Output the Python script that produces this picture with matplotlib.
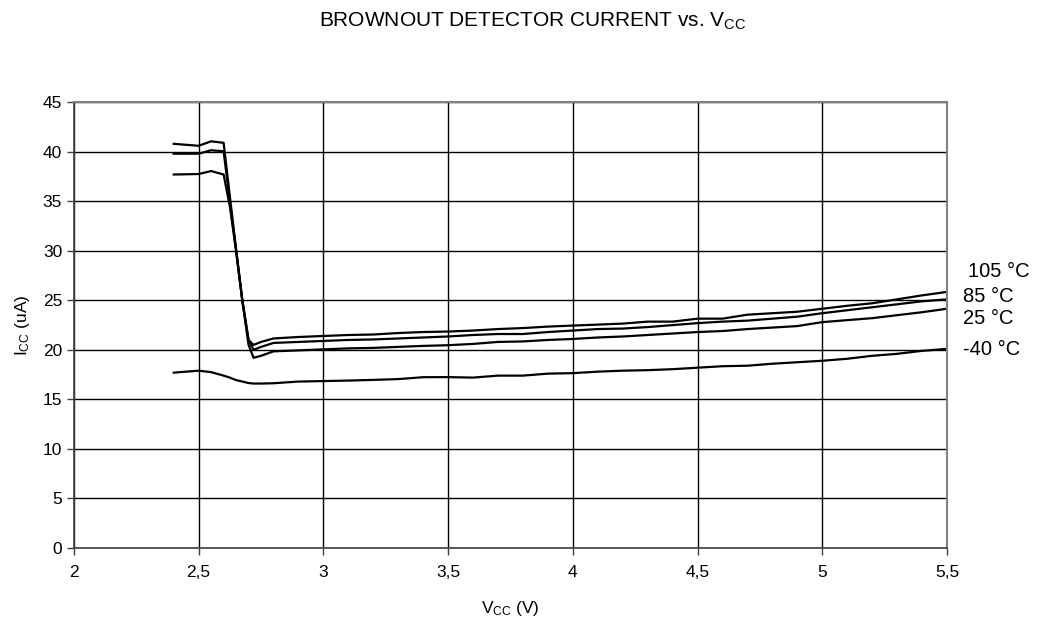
import matplotlib

matplotlib.use("Agg")
import matplotlib.pyplot as plt
from matplotlib.ticker import FuncFormatter

plt.rcParams["font.family"] = ["Liberation Sans", "DejaVu Sans"]
plt.rcParams["mathtext.default"] = "regular"

# supply voltage (V)
vcc = [2.4, 2.5, 2.55, 2.6, 2.625, 2.65, 2.675, 2.7, 2.72, 2.75, 2.8,
       2.9, 3.0, 3.1, 3.2, 3.3, 3.4, 3.5, 3.6, 3.7, 3.8, 3.9, 4.0,
       4.1, 4.2, 4.3, 4.4, 4.5, 4.6, 4.7, 4.8, 4.9, 5.0,
       5.1, 5.2, 5.3, 5.4, 5.5]

# current (uA) per temperature
icc_105 = [40.8, 40.6, 41.05, 40.9, 35.5, 30.2, 25.0, 21.0, 20.5, 20.8, 21.15,
           21.3, 21.4, 21.5, 21.55, 21.7, 21.8, 21.85, 21.95, 22.1, 22.2, 22.35, 22.45,
           22.55, 22.65, 22.85, 22.85, 23.15, 23.15, 23.55, 23.7, 23.85, 24.15,
           24.45, 24.7, 25.1, 25.5, 25.85]
icc_85 = [39.8, 39.8, 40.15, 40.05, 35.0, 30.0, 25.0, 21.0, 20.0, 20.3, 20.7,
          20.8, 20.9, 21.0, 21.05, 21.15, 21.25, 21.35, 21.5, 21.6, 21.6, 21.8, 21.95,
          22.1, 22.15, 22.3, 22.5, 22.7, 22.85, 22.95, 23.15, 23.35, 23.7,
          24.0, 24.3, 24.6, 24.9, 25.1]
icc_25 = [37.7, 37.75, 38.05, 37.7, 34.5, 30.0, 25.0, 20.5, 19.2, 19.4, 19.85,
          19.95, 20.05, 20.15, 20.2, 20.3, 20.4, 20.47, 20.6, 20.8, 20.85, 21.0, 21.1,
          21.25, 21.35, 21.5, 21.65, 21.8, 21.9, 22.1, 22.25, 22.4, 22.8,
          23.0, 23.2, 23.5, 23.8, 24.15]
icc_m40 = [17.7, 17.9, 17.75, 17.4, 17.2, 16.95, 16.8, 16.65, 16.6, 16.6, 16.63,
           16.8, 16.85, 16.9, 16.97, 17.05, 17.24, 17.25, 17.2, 17.4, 17.4, 17.6, 17.65,
           17.8, 17.9, 17.95, 18.05, 18.2, 18.35, 18.4, 18.6, 18.75, 18.9,
           19.1, 19.4, 19.6, 19.9, 20.1]

series = [icc_105, icc_85, icc_25, icc_m40]
labels = ["105 °C", "85 °C", "25 °C", "-40 °C"]
label_pos = [(5.585, 27.9), (5.565, 25.4), (5.565, 23.2), (5.565, 20.0)]

x_ticks = [2, 2.5, 3, 3.5, 4, 4.5, 5, 5.5]
y_ticks = list(range(0, 46, 5))

fig = plt.figure(figsize=(10.43, 6.27), dpi=100)
ax = fig.add_axes([0.0709, 0.126, 0.837, 0.711])

for values in series:
    ax.plot(vcc, values, color="black", linewidth=1.6, solid_joinstyle="round")

ax.set_xlim(2, 5.5)
ax.set_ylim(0, 45)
ax.set_xticks(x_ticks)
ax.set_yticks(y_ticks)
ax.xaxis.set_major_formatter(FuncFormatter(lambda v, p: f"{v:g}".replace(".", ",")))
ax.grid(True, color="black", linewidth=1.0)
ax.set_axisbelow(True)
ax.tick_params(direction="out", length=5, width=1, labelsize=12.5, color="#404040")
ax.tick_params(axis="x", pad=7)

for side in ("top", "right"):
    ax.spines[side].set_color("#808080")
    ax.spines[side].set_linewidth(1.5)
for side in ("left", "bottom"):
    ax.spines[side].set_color("#404040")
    ax.spines[side].set_linewidth(1.2)

for text, (xv, yv) in zip(labels, label_pos):
    ax.text(xv, yv, text, fontsize=14.5, ha="left", va="center", clip_on=False)

ax.set_xlabel(r"V$_{CC}$ (V)", fontsize=12.5, labelpad=14)
ax.set_ylabel(r"I$_{CC}$ (uA)", fontsize=12.5, labelpad=8)
fig.text(0.511, 0.966, r"BROWNOUT DETECTOR CURRENT vs. V$_{CC}$",
         ha="center", va="center", fontsize=15)

fig.savefig("out.png", dpi=100)
